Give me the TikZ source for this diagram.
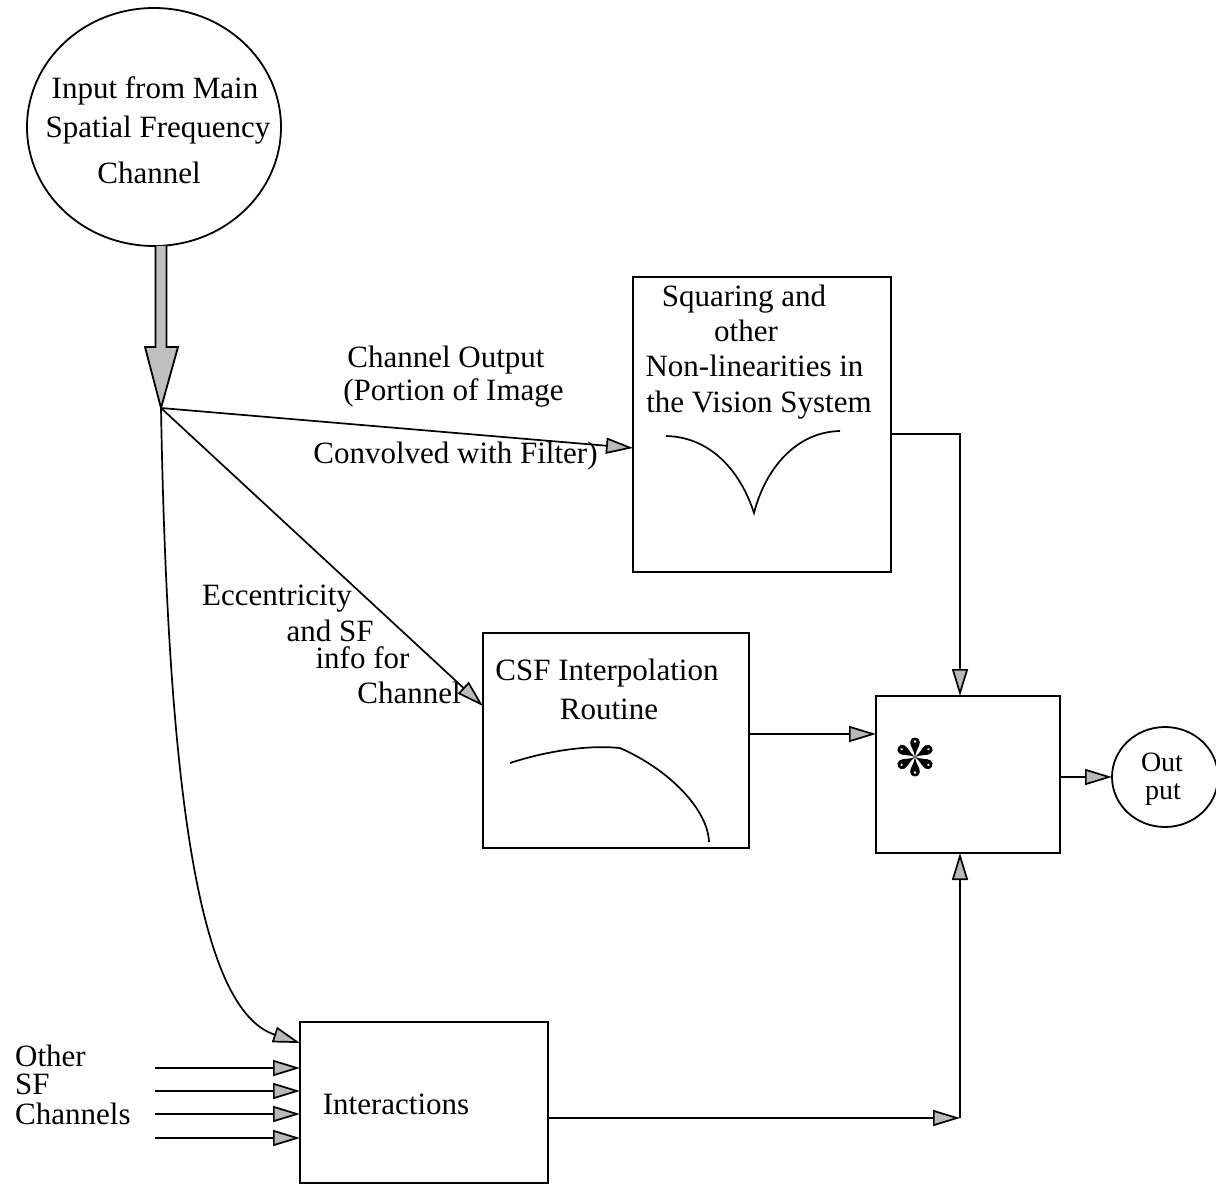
\documentclass[tikz,border=0pt]{standalone}
\usepackage{fontspec}
\setmainfont{Liberation Serif}
\usetikzlibrary{arrows.meta,shapes.geometric,calc}
\newcommand\fsz{\fontsize{31}{43}\selectfont}
\newcommand\fso{\fontsize{28}{30}\selectfont}
\tikzset{
  lbl/.style={font=\fsz, inner sep=0pt, anchor=base},
  lblw/.style={font=\fsz, inner sep=0pt, anchor=base west},
  blk/.style={draw, line width=1.8pt, outer sep=0pt, inner sep=0pt},
  arr/.style={line width=1.7pt, -{Triangle[length=27pt,width=16pt,fill=gray!55]}},
  thin/.style={line width=1.7pt}
}
\begin{document}
\begin{tikzpicture}[x=1pt,y=-1pt]
\useasboundingbox (0,0) rectangle (1216,1185);

% nodes
\node[blk, ellipse, minimum width=254pt, minimum height=238pt] (in) at (154,127) {};
\node[lbl] (in1) at (155,99) {Input from Main};
\node[lbl] (in2) at (158,138) {Spatial Frequency};
\node[lbl] (in3) at (149,184) {Channel};

\node[blk, minimum width=258pt, minimum height=295pt] (sq) at (762,424.5) {};
\node[lbl] (sq1) at (744,306) {Squaring and};
\node[lbl] (sq2) at (746,341) {other};
\node[lbl] (sq3) at (754.5,376) {Non-linearities in};
\node[lbl] (sq4) at (759,412) {the Vision System};

\node[blk, minimum width=266pt, minimum height=215pt] (csf) at (616,740.5) {};
\node[lbl] (csf1) at (607,680) {CSF Interpolation};
\node[lbl] (csf2) at (609,719) {Routine};

\node[blk, minimum width=184pt, minimum height=157pt] (star) at (968,774.5) {};
\node[blk, ellipse, minimum width=106pt, minimum height=100pt] (out) at (1165,777) {};
\node[font=\fso, inner sep=0pt, anchor=base] (out1) at (1162,771) {Out};
\node[font=\fso, inner sep=0pt, anchor=base] (out2) at (1163,799) {put};

\node[blk, minimum width=248pt, minimum height=161pt] (inter) at (424,1102.5) {};
\node[lbl] (inter1) at (396,1114) {Interactions};

\node[lblw] (oth1) at (15,1066) {Other};
\node[lblw] (oth2) at (15,1094) {SF};
\node[lblw] (oth3) at (15,1124) {Channels};

\node[lbl] (co1) at (446,367) {Channel Output};
\node[lbl] (co2) at (453.5,400) {(Portion of Image};
\node[lbl] (co3) at (455.5,463) {Convolved with Filter)};

\node[lbl] (ec1) at (277,605) {Eccentricity};
\node[lbl] (ec2) at (330,641) {and SF};
\node[lbl] (ec3) at (362.5,668) {info for};
\node[lbl] (ec4) at (409,703) {Channel};

% thick gray arrow from input
\coordinate (J) at (161,408);
\filldraw[fill=gray!50, line width=1.8pt, line join=miter]
  (155.5,246) -- (155.5,347) -- (145,347) -- (J) -- (178,347) -- (166.5,347) -- (166.5,246);

% connectors
\draw[arr] (J) -- ([yshift=-23.5pt]sq.west);
\draw[arr] (J) -- ([yshift=34.5pt]csf.west);
\draw[arr] (J) .. controls (168,800) and (200,1010) .. ([yshift=59.5pt]inter.west);
\draw[arr] ([yshift=-9.5pt]sq.east) -| ([xshift=-8pt]star.north);
\draw[arr] ([yshift=6.5pt]csf.east) -- ([yshift=40.5pt]star.west);
\draw[arr] (out.west -| star.east) -- (out.west);
\coordinate (K) at (960,1118);
\draw[arr] ([yshift=-15.5pt]inter.east) -- (K);
\draw[arr] (K) -- ([xshift=-8pt]star.south);
\foreach \yy/\nm in {1068/o1,1091/o2,1114/o3,1138/o4}{
  \coordinate (\nm) at (155,\yy);
  \draw[arr] (\nm) -- (\nm -| inter.west);
}

% curves inside boxes
\draw[thin] (666,436) .. controls (710,437) and (740,470) .. (754,513)
            .. controls (765,470) and (795,432) .. (840,431);
\draw[thin] (510,763) .. controls (550,750) and (590,745) .. (620,748)
            .. controls (670,770) and (708,810) .. (709,842);

% star glyph
\foreach \a in {90,30,-30,-90,150,210}{
  \begin{scope}[shift={(915,757)}, rotate=\a]
    \fill (0,0) .. controls (7,0.8) and (10,4.8) .. (15,4.8)
          .. controls (21,4.8) and (21,-4.8) .. (15,-4.8)
          .. controls (10,-4.8) and (7,-0.8) .. (0,0) -- cycle;
    \fill[white] (15.5,0) circle (1.3pt);
  \end{scope}
}
\end{tikzpicture}
\end{document}
